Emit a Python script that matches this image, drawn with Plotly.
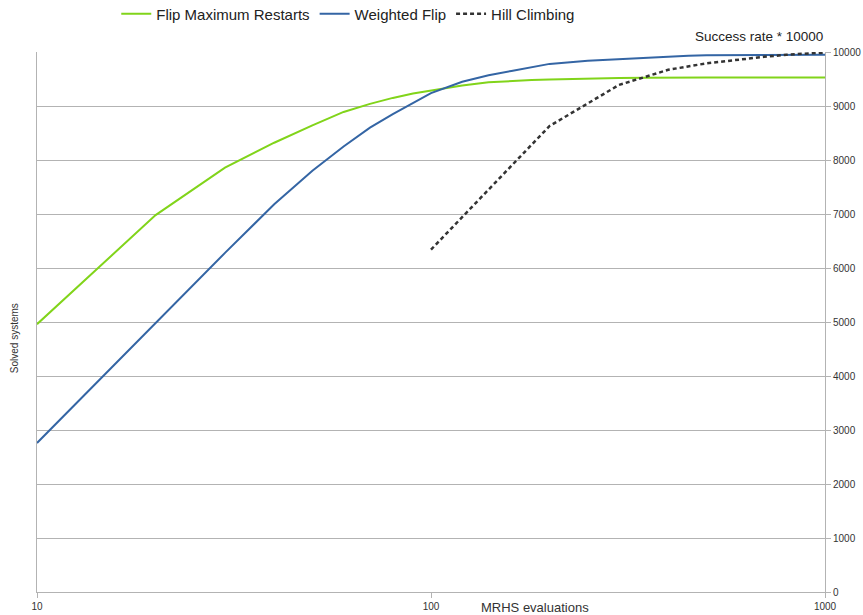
import plotly.graph_objects as go

# MRHS evaluation counts (log axis)
evals = [10, 20, 30, 40, 50, 60, 70, 80, 90, 100,
         120, 140, 160, 180, 200, 250, 300, 350, 400, 450,
         500, 600, 700, 800, 900, 1000]

flip_max_restarts = [4960, 6980, 7860, 8320, 8640, 8890, 9040, 9150, 9230, 9290,
                     9380, 9440, 9465, 9480, 9490, 9510, 9520, 9525, 9530, 9530,
                     9530, 9530, 9530, 9530, 9530, 9530]

weighted_flip = [2760, 4980, 6280, 7180, 7800, 8250, 8600, 8850, 9050, 9240,
                 9450, 9570, 9650, 9720, 9780, 9840, 9870, 9900, 9920, 9930,
                 9940, 9945, 9950, 9950, 9950, 9950]

hill_evals = [100, 200, 300, 400, 500, 600, 700, 800, 900, 1000]
hill_climbing = [6340, 8630, 9390, 9670, 9790, 9860, 9910, 9950, 9975, 9990]

y_ticks = list(range(0, 10001, 1000))
x_ticks = [10, 100, 1000]

FONT = "Liberation Sans, Arial, sans-serif"
GRID = "#b3b3b3"

fig = go.Figure()
fig.add_trace(go.Scatter(x=evals, y=flip_max_restarts, mode="lines",
                         name="Flip Maximum Restarts",
                         line=dict(color="#81d41a", width=2)))
fig.add_trace(go.Scatter(x=evals, y=weighted_flip, mode="lines",
                         name="Weighted Flip",
                         line=dict(color="#3465a4", width=2)))
fig.add_trace(go.Scatter(x=hill_evals, y=hill_climbing, mode="lines",
                         name="Hill Climbing",
                         line=dict(color="#333333", width=2.5, dash="4px,3px")))

fig.update_layout(
    width=863, height=615,
    margin=dict(l=37, r=38, t=52, b=23),
    paper_bgcolor="white", plot_bgcolor="white",
    font=dict(family=FONT, color="#333333"),
    showlegend=True,
    legend=dict(orientation="h", x=0.395, xanchor="center",
                y=1 - 14 / 615, yanchor="middle", yref="container",
                font=dict(size=15, family=FONT, color="#222222"),
                tracegroupgap=0, bgcolor="rgba(0,0,0,0)"),
    xaxis=dict(type="log", range=[1, 3], tickvals=x_ticks,
               ticktext=[str(v) for v in x_ticks], automargin=False,
               showgrid=False, showline=True, linecolor=GRID, linewidth=1,
               mirror=False, ticks="outside", ticklen=5, tickcolor=GRID,
               tickfont=dict(size=10, family=FONT, color="#333333"),
               zeroline=False),
    yaxis=dict(range=[0, 10000], tickvals=y_ticks,
               ticktext=[str(v) for v in y_ticks], side="right",
               automargin=False,
               showgrid=True, gridcolor=GRID, gridwidth=1,
               showline=True, linecolor=GRID, linewidth=1, mirror=True,
               ticks="outside", ticklen=5, tickcolor=GRID,
               tickfont=dict(size=10, family=FONT, color="#333333"),
               zeroline=False),
)

fig.add_annotation(text="Success rate * 10000", xref="paper", yref="paper",
                   x=1.0, y=1.0, xanchor="right", yanchor="bottom", yshift=6,
                   showarrow=False, font=dict(size=13.5, family=FONT, color="#222222"))
fig.add_annotation(text="Solved systems", xref="paper", yref="paper",
                   x=0, y=0.47, xshift=-23, textangle=-90, xanchor="center",
                   yanchor="middle", showarrow=False,
                   font=dict(size=10, family=FONT, color="#333333"))
fig.add_annotation(text="MRHS evaluations", xref="paper", yref="paper",
                   x=0.632, y=0, yshift=-6, xanchor="center", yanchor="top",
                   showarrow=False, font=dict(size=13, family=FONT, color="#333333"))

fig.write_html("out.html")
